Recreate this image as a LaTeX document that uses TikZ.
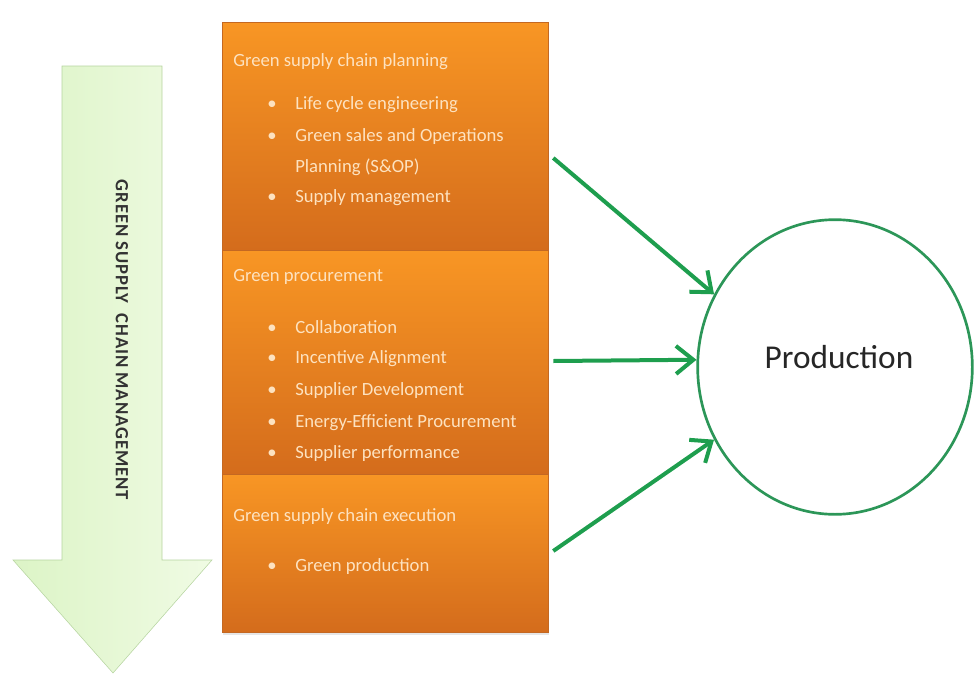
\documentclass[tikz,border=0pt]{standalone}
\usepackage{fontspec}
\setmainfont{Carlito}
\usetikzlibrary{arrows.meta,shapes.geometric,shadows}
\definecolor{boxtop}{RGB}{248,150,36}
\definecolor{boxbot}{RGB}{212,108,28}
\definecolor{boxline}{RGB}{196,104,34}
\definecolor{boxtext}{RGB}{253,226,192}
\definecolor{feedgreen}{RGB}{30,158,78}
\definecolor{ringgreen}{RGB}{44,150,88}
\definecolor{shaftleft}{RGB}{220,244,198}
\definecolor{shaftright}{RGB}{240,251,228}
\definecolor{shaftline}{RGB}{182,212,160}
\newcommand{\bul}{\makebox[21pt][l]{\textbullet}}

\begin{document}
\begin{tikzpicture}[x=0.75pt, y=-0.75pt]
        \tikzstyle{stage} = [rectangle, draw=boxline, top color=boxtop, bottom color=boxbot, minimum width=244.5pt, inner sep=0pt, drop shadow={opacity=0.2, shadow xshift=1pt, shadow yshift=-2pt}]
        \tikzstyle{item} = [anchor=west, inner sep=0pt, text=boxtext, font=\fontsize{14}{16}\selectfont]
        \tikzstyle{feed} = [draw=feedgreen, line width=3pt, -{Straight Barb[length=13pt, width=21pt]}]
        \useasboundingbox (0,0) rectangle (975,675);

        % big arrow on the left
        \draw[shaftline, left color=shaftleft, right color=shaftright] (62,66) -- (162,66) -- (162,560) -- (212,560) -- (113,673) -- (13,560) -- (62,560) -- cycle;
        \node[rotate=-90, font=\bfseries\fontsize{14}{16}\selectfont\addfontfeature{LetterSpace=5}, text=black!80](GSCM) at (122,340) {GREEN\ SUPPLY\ \ CHAIN\ MANAGEMENT};

        % the three stages
        \node[stage, minimum height=171pt](Planning) at (385,136) {};
        \node[stage, minimum height=168pt](Procurement) at (385,362) {};
        \node[stage, minimum height=118.5pt](Execution) at (385,553) {};

        \node[item](PlanHead) at (233,62) {Green supply chain planning};
        \node[item](LifeCycle) at (267,105) {\bul Life cycle engineering};
        \node[item](SalesOps) at (267,137) {\bul Green sales and Operations};
        \node[item](SOP) at (295,167) {Planning (S\&OP)};
        \node[item](SupplyMgmt) at (267,198) {\bul Supply management};

        \node[item](ProcHead) at (233,277) {Green procurement};
        \node[item](Collab) at (267,327) {\bul Collaboration};
        \node[item](Incentive) at (267,359) {\bul Incentive Alignment};
        \node[item](SupDev) at (267,391) {\bul Supplier Development};
        \node[item](Energy) at (267,423) {\bul Energy-Efficient Procurement};
        \node[item](SupPerf) at (267,454) {\bul Supplier performance};

        \node[item](ExecHead) at (233,517) {Green supply chain execution};
        \node[item](GreenProd) at (267,567) {\bul Green production};

        % production
        \node[ellipse, draw=ringgreen, line width=2pt, inner sep=0pt, minimum width=206pt, minimum height=221pt](Production) at (835,367) {};
        \node[font=\fontsize{25}{29}\selectfont, text=black!85](ProdText) at (839,357) {Production};

        \draw[feed] ([shift={(5,22)}]Planning.east) -- (Production.149);
        \draw[feed] ([shift={(5,-1)}]Procurement.east) -- (Production.177);
        \draw[feed] ([shift={(5,-2)}]Execution.east) -- (Production.211);

    \end{tikzpicture}
\end{document}
